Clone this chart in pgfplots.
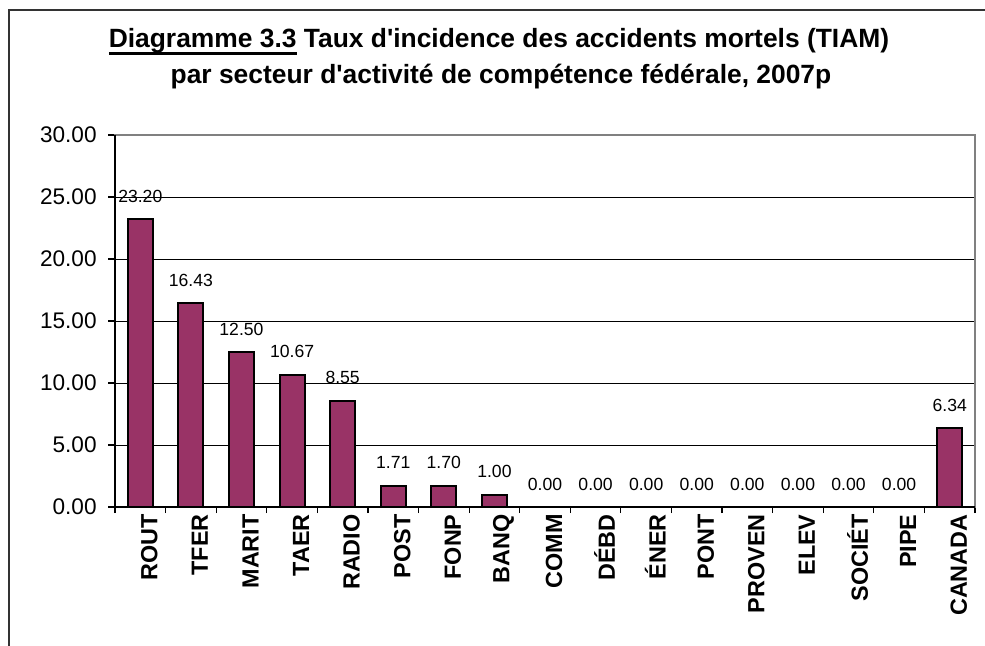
\documentclass[border=0pt]{standalone}
\usepackage{pgfplots}
\pgfplotsset{compat=1.18}
\usepackage{fontspec}
\setmainfont{Liberation Sans}
\definecolor{barc}{HTML}{993366}
\newcommand\ul[1]{\setbox0\hbox{#1}\rlap{\rule[-3.4pt]{\wd0}{1.2pt}}\box0\relax}
\pgfplotstableread{
x y
0 23.20
1 16.43
2 12.50
3 10.67
4 8.55
5 1.71
6 1.70
7 1.00
8 0.00
9 0.00
10 0.00
11 0.00
12 0.00
13 0.00
14 0.00
15 0.00
16 6.34
}\datatable
\begin{document}
\begin{tikzpicture}
\path[use as bounding box] (0,0) rectangle (492.5pt,-323pt);
\draw[line width=0.6pt, black!80] (4.5pt,-323pt) -- (4.5pt,-5pt) -- (492.5pt,-5pt);
\node[anchor=base, font=\bfseries\fontsize{13.2}{15}\selectfont, inner sep=0pt] at (249.5pt,-24pt) {\ul{Diagramme 3.3} Taux d\textquotesingle incidence des accidents mortels (TIAM)};
\node[anchor=base, font=\bfseries\fontsize{13.2}{15}\selectfont, inner sep=0pt] at (250.5pt,-42pt) {par secteur d\textquotesingle activité de compétence fédérale, 2007p};
\begin{axis}[
  at={(57.5pt,-253.5pt)}, anchor=south west,
  scale only axis, width=430pt, height=186pt,
  xmin=-0.5, xmax=16.5, ymin=0, ymax=30,
  /pgf/number format/assume math mode=true,
  ytick={0,5,...,30},
  ymajorgrids, grid style={black, line width=0.5pt},
  axis line style={draw=gray, line width=0.8pt},
  tick align=outside, major tick length=3.5pt, minor tick length=3pt,
  xtick pos=bottom, ytick pos=left,
  ytick style={black, line width=0.6pt},
  yticklabel style={/pgf/number format/.cd, fixed, fixed zerofill, precision=2, /tikz/.cd,
    font=\fontsize{11.3}{13}\selectfont, inner sep=0pt, xshift=-5.5pt},
  xtick={0,...,16},
  xticklabels={ROUT,TFER,MARIT,TAER,RADIO,POST,FONP,BANQ,COMM,DÉBD,ÉNER,PONT,PROVEN,ELEV,SOCIÉT,PIPE,CANADA},
  xticklabel style={rotate=90, anchor=east, font=\bfseries\fontsize{11.7}{13}\selectfont, inner sep=0pt, yshift=-4.5pt},
  major x tick style={draw=none},
  minor xtick={-0.5,0.5,...,16.5},
  minor x tick style={black, line width=0.6pt},
  ybar, bar width=12.5pt,
  nodes near coords={\pgfmathprintnumber[fixed,fixed zerofill,precision=2]{\pgfplotspointmeta}},
  every node near coord/.append style={anchor=base, inner sep=0pt, yshift=8.5pt, font=\fontsize{8.8}{10}\selectfont, black},
  clip=false,
]
\addplot[fill=barc, draw=black, line width=1pt] table[x=x,y=y] {\datatable};
\draw[black, line width=0.8pt] (rel axis cs:0,1) -- (rel axis cs:0,0) -- (rel axis cs:1,0);
\end{axis}
\end{tikzpicture}
\end{document}
